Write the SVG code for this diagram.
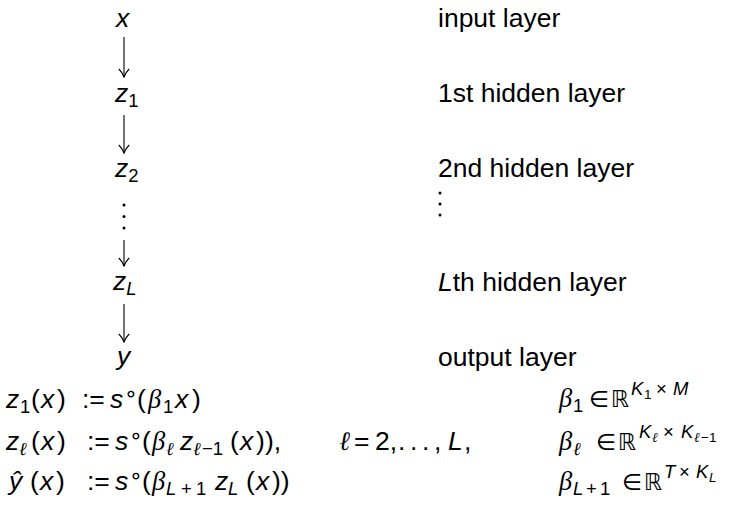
<svg xmlns="http://www.w3.org/2000/svg" width="739" height="508" viewBox="0 0 739 508">
<defs>
<marker id="ah" markerWidth="10" markerHeight="12" refX="9" refY="6" orient="auto" markerUnits="userSpaceOnUse" viewBox="0 0 10 12">
<path d="M1,0.8 Q4.5,4.5 9,6 Q4.5,7.5 1,11.2" fill="none" stroke="#000" stroke-width="1.1"/>
</marker>
<style>
text{font-family:"Liberation Sans",Arial,sans-serif;font-size:26.5px;fill:#000}
.i{font-style:italic}
.g{font-family:"Liberation Serif","DejaVu Serif",serif;font-style:italic}
.r{font-family:"DejaVu Sans","Liberation Sans",sans-serif;font-size:23px}
.o{font-family:"DejaVu Sans","Liberation Sans",sans-serif;font-size:22px}
.sub{font-size:18.5px}
.ss{font-size:13.5px}
.dot{fill:#000}
.c{stroke:#000;stroke-width:1.1;fill:none}
</style>
</defs>
<g id="connectors">
<line class="c" x1="124" y1="37" x2="124" y2="77" marker-end="url(#ah)"/>
<line class="c" x1="124" y1="115" x2="124" y2="153" marker-end="url(#ah)"/>
<line class="c" x1="124" y1="240" x2="124" y2="266" marker-end="url(#ah)"/>
<line class="c" x1="124" y1="304" x2="124" y2="342" marker-end="url(#ah)"/>
</g>
<g id="node-x"><text class="i" x="116" y="27">x</text></g>
<g id="node-z1"><text x="115" y="102"><tspan class="i">z</tspan><tspan class="sub" dy="5">1</tspan></text></g>
<g id="node-z2"><text x="115" y="177"><tspan class="i">z</tspan><tspan class="sub" dy="5">2</tspan></text></g>
<g id="node-dots">
<circle class="dot" cx="124" cy="205" r="1.5"/><circle class="dot" cx="124" cy="216.5" r="1.5"/><circle class="dot" cx="124" cy="228" r="1.5"/>
</g>
<g id="node-zL"><text x="113" y="290"><tspan class="i">z</tspan><tspan class="i sub" dy="5">L</tspan></text></g>
<g id="node-y"><text class="i" x="117" y="365">y</text></g>
<g id="labels">
<text x="438" y="27">input layer</text>
<text x="438" y="102">1st hidden layer</text>
<text x="438" y="177">2nd hidden layer</text>
<circle class="dot" cx="440" cy="193" r="1.5"/><circle class="dot" cx="440" cy="204" r="1.5"/><circle class="dot" cx="440" cy="215" r="1.5"/>
<text x="438" y="291"><tspan class="i">L</tspan>th hidden layer</text>
<text x="438" y="366">output layer</text>
</g>
<g id="formulas">
<text y="408"><tspan class="i" x="6">z</tspan><tspan class="sub" x="20" dy="5">1</tspan><tspan x="31" dy="-5">(</tspan><tspan class="i" x="41">x</tspan><tspan x="57">)</tspan><tspan x="82">:=</tspan><tspan class="i" x="110">s</tspan><tspan class="o" x="124" dy="-7">∘</tspan><tspan x="137" dy="7">(</tspan><tspan class="g" x="148">β</tspan><tspan class="sub" x="163" dy="5">1</tspan><tspan class="i" x="175" dy="-5">x</tspan><tspan x="192">)</tspan></text>
<text y="450"><tspan class="i" x="6">z</tspan><tspan class="g sub" x="19" dy="5">ℓ</tspan><tspan x="31" dy="-5">(</tspan><tspan class="i" x="41">x</tspan><tspan x="57">)</tspan><tspan x="87">:=</tspan><tspan class="i" x="115">s</tspan><tspan class="o" x="129" dy="-7">∘</tspan><tspan x="142" dy="7">(</tspan><tspan class="g" x="152">β</tspan><tspan class="g sub" x="166" dy="5">ℓ</tspan><tspan class="i" x="180" dy="-5">z</tspan><tspan class="g sub" x="193" dy="5">ℓ</tspan><tspan class="sub" x="202">−1</tspan><tspan x="230" dy="-5">(</tspan><tspan class="i" x="240">x</tspan><tspan x="256">)</tspan><tspan x="265">),</tspan><tspan class="g" x="339">ℓ</tspan><tspan x="354">=</tspan><tspan x="375">2,</tspan><tspan x="398">.</tspan><tspan x="410">.</tspan><tspan x="422">.</tspan><tspan x="434">,</tspan><tspan class="i" x="448">L</tspan><tspan x="464">,</tspan></text>
<text y="490"><tspan class="i" x="9">ŷ</tspan><tspan x="30">(</tspan><tspan class="i" x="40">x</tspan><tspan x="56">)</tspan><tspan x="87">:=</tspan><tspan class="i" x="115">s</tspan><tspan class="o" x="129" dy="-7">∘</tspan><tspan x="142" dy="7">(</tspan><tspan class="g" x="152">β</tspan><tspan class="i sub" x="166" dy="5">L</tspan><tspan class="sub" x="181">+</tspan><tspan class="sub" x="196">1</tspan><tspan class="i" x="215" dy="-5">z</tspan><tspan class="i sub" x="228" dy="5">L</tspan><tspan x="246" dy="-5">(</tspan><tspan class="i" x="256">x</tspan><tspan x="272">))</tspan></text>
<text y="407"><tspan class="g" x="559">β</tspan><tspan class="sub" x="573" dy="5">1</tspan><tspan class="r" x="589" dy="-5">∈</tspan><tspan class="r" x="611">ℝ</tspan><tspan class="i sub" x="631" dy="-12">K</tspan><tspan class="ss" x="644" dy="4">1</tspan><tspan class="sub" x="656" dy="-4">×</tspan><tspan class="i sub" x="673">M</tspan></text>
<text y="450"><tspan class="g" x="559">β</tspan><tspan class="g sub" x="573" dy="5">ℓ</tspan><tspan class="r" x="596" dy="-5">∈</tspan><tspan class="r" x="618">ℝ</tspan><tspan class="i sub" x="639" dy="-12">K</tspan><tspan class="g ss" x="652" dy="4">ℓ</tspan><tspan class="sub" x="663" dy="-4">×</tspan><tspan class="i sub" x="681">K</tspan><tspan class="g ss" x="694" dy="4">ℓ</tspan><tspan class="ss" x="701">−1</tspan></text>
<text y="490"><tspan class="g" x="559">β</tspan><tspan class="i sub" x="573" dy="5">L</tspan><tspan class="sub" x="586">+</tspan><tspan class="sub" x="600">1</tspan><tspan class="r" x="622" dy="-5">∈</tspan><tspan class="r" x="644">ℝ</tspan><tspan class="i sub" x="664" dy="-12">T</tspan><tspan class="sub" x="679">×</tspan><tspan class="i sub" x="696">K</tspan><tspan class="i ss" x="709" dy="4">L</tspan></text>
</g>
</svg>
